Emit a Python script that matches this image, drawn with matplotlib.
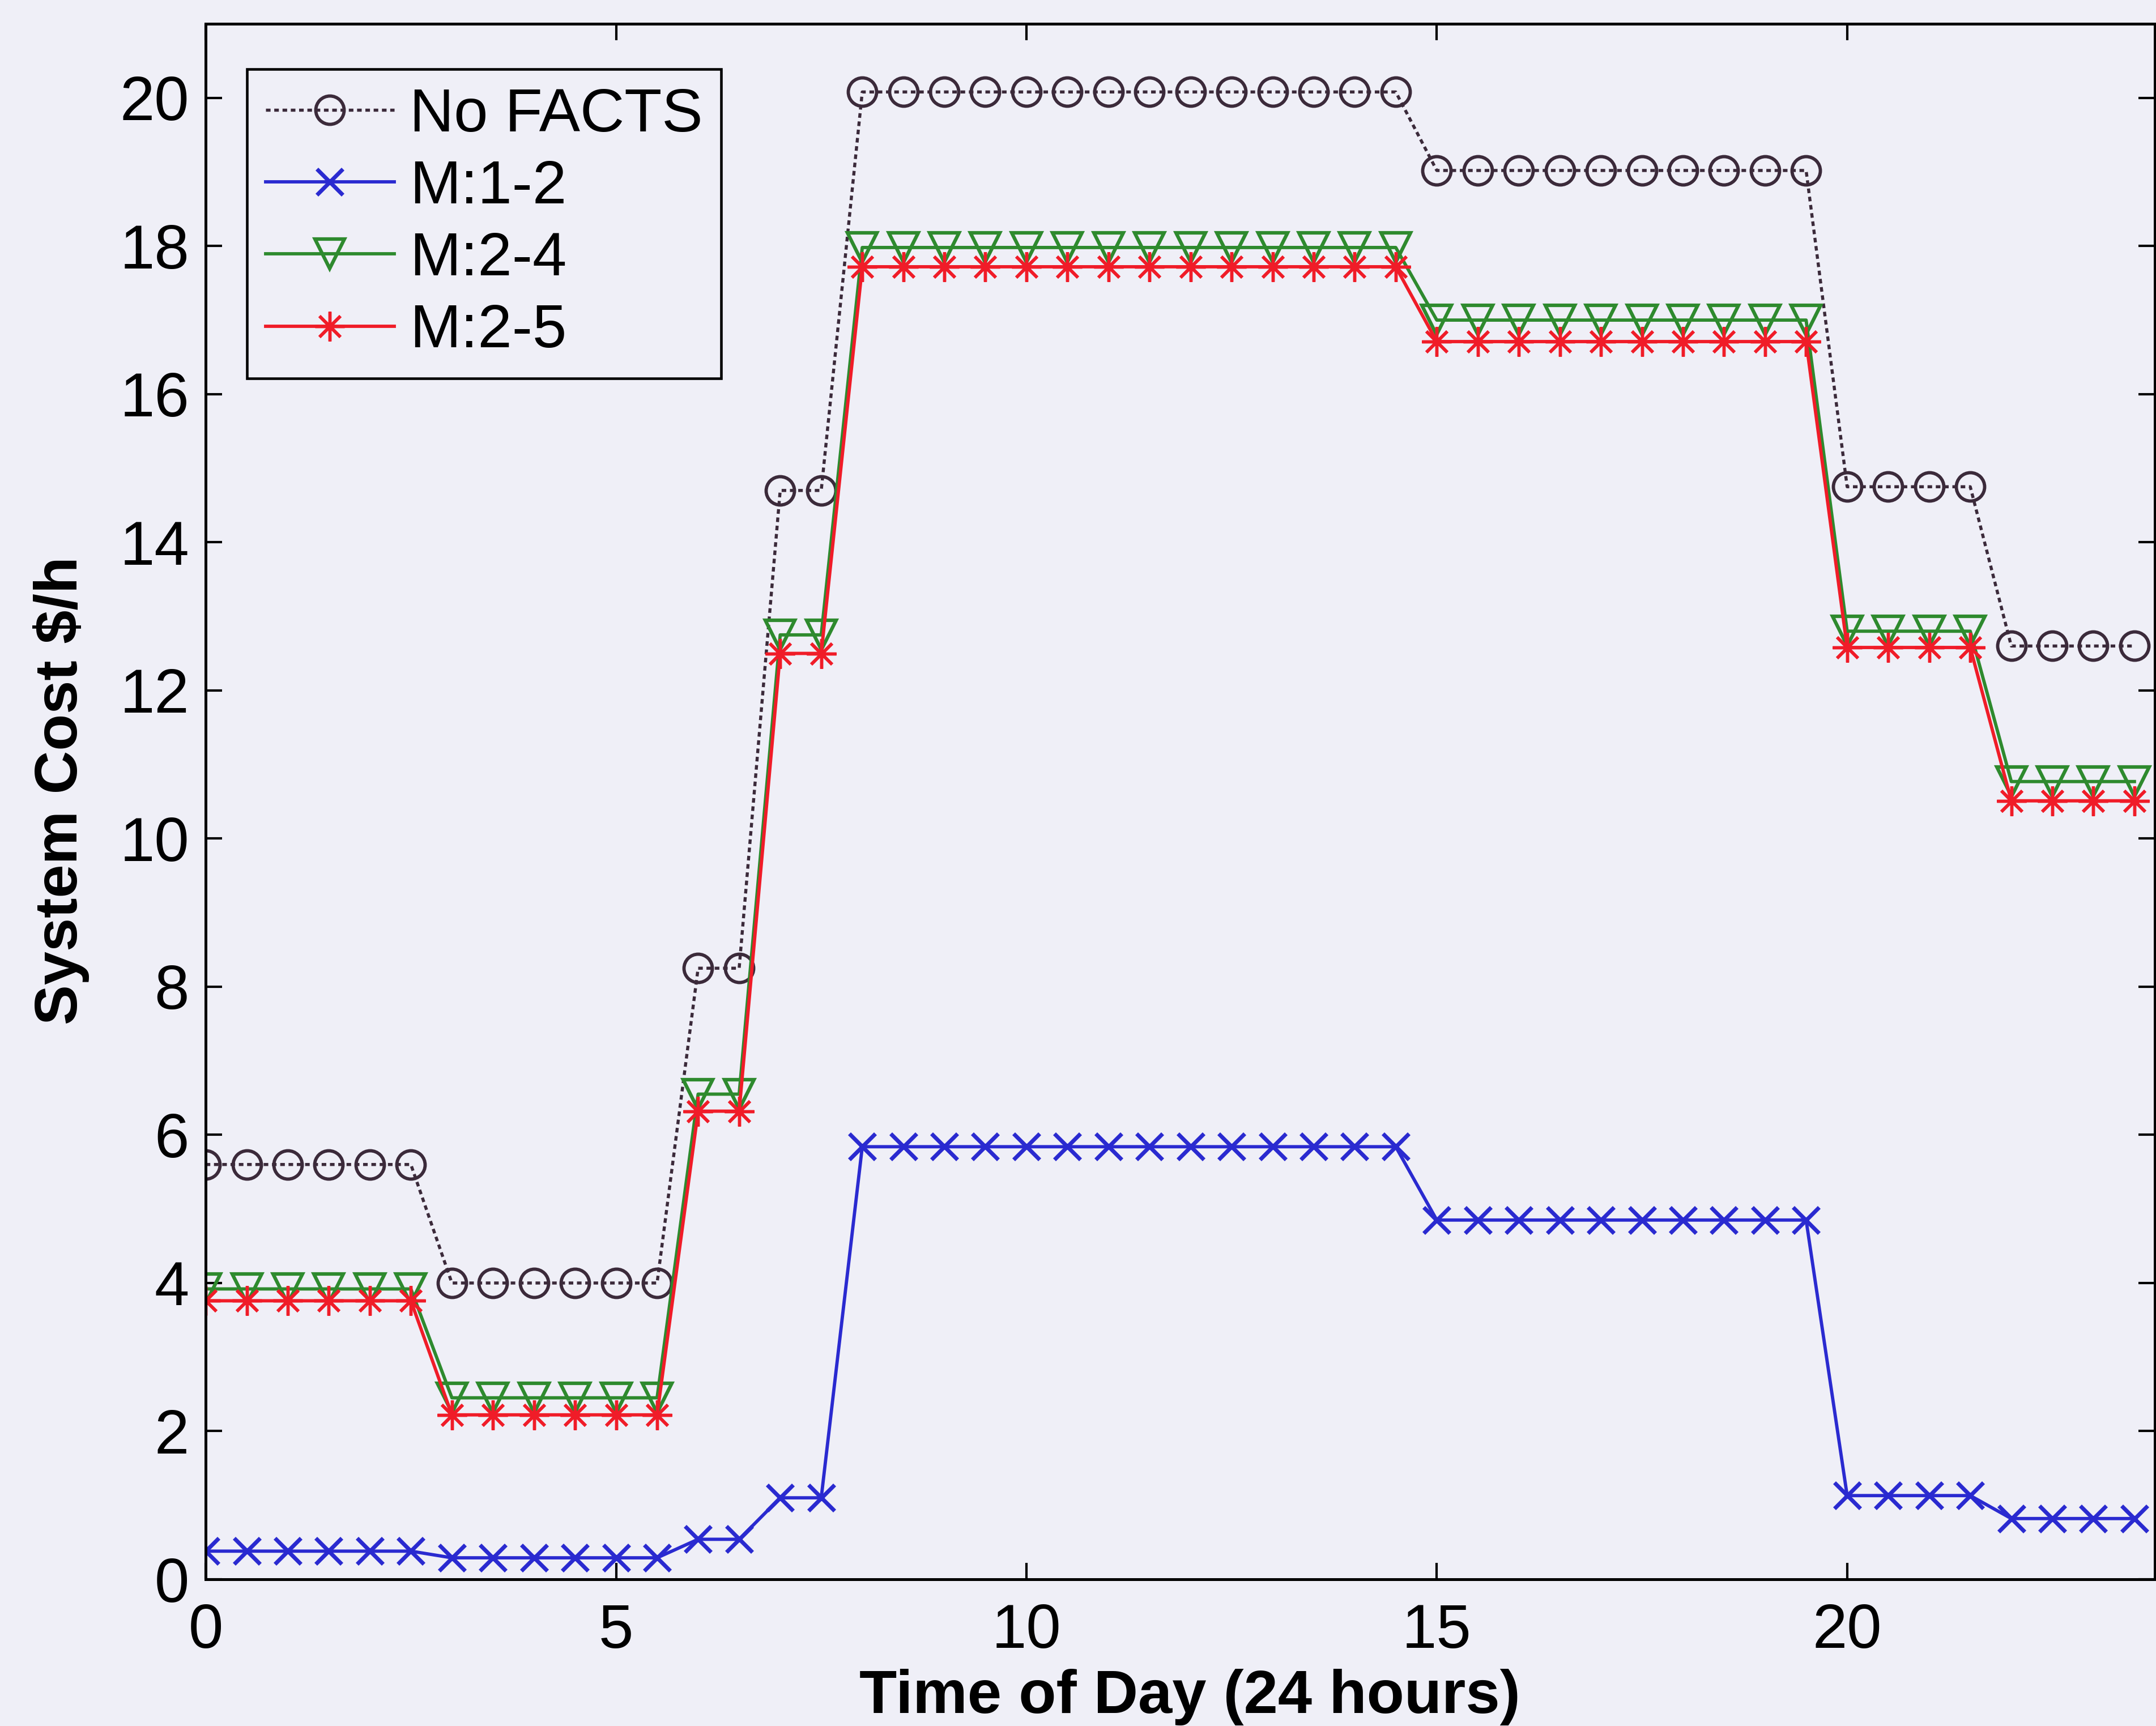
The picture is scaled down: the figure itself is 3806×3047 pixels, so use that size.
import matplotlib
matplotlib.use('Agg')
import matplotlib.pyplot as plt

# Half-hourly time of day (hours)
hours = [0.0, 0.5, 1.0, 1.5, 2.0, 2.5, 3.0, 3.5, 4.0, 4.5, 5.0, 5.5,
         6.0, 6.5, 7.0, 7.5, 8.0, 8.5, 9.0, 9.5, 10.0, 10.5, 11.0, 11.5,
         12.0, 12.5, 13.0, 13.5, 14.0, 14.5, 15.0, 15.5, 16.0, 16.5, 17.0, 17.5,
         18.0, 18.5, 19.0, 19.5, 20.0, 20.5, 21.0, 21.5, 22.0, 22.5, 23.0, 23.5]

# System cost $/h for each case
no_facts = [5.6, 5.6, 5.6, 5.6, 5.6, 5.6, 4.0, 4.0, 4.0, 4.0, 4.0, 4.0,
            8.25, 8.25, 14.7, 14.7, 20.08, 20.08, 20.08, 20.08, 20.08, 20.08, 20.08, 20.08,
            20.08, 20.08, 20.08, 20.08, 20.08, 20.08, 19.02, 19.02, 19.02, 19.02, 19.02, 19.02,
            19.02, 19.02, 19.02, 19.02, 14.75, 14.75, 14.75, 14.75, 12.6, 12.6, 12.6, 12.6]
m_1_2 = [0.38, 0.38, 0.38, 0.38, 0.38, 0.38, 0.29, 0.29, 0.29, 0.29, 0.29, 0.29,
         0.54, 0.54, 1.1, 1.1, 5.84, 5.84, 5.84, 5.84, 5.84, 5.84, 5.84, 5.84,
         5.84, 5.84, 5.84, 5.84, 5.84, 5.84, 4.85, 4.85, 4.85, 4.85, 4.85, 4.85,
         4.85, 4.85, 4.85, 4.85, 1.13, 1.13, 1.13, 1.13, 0.82, 0.82, 0.82, 0.82]
m_2_4 = [3.92, 3.92, 3.92, 3.92, 3.92, 3.92, 2.45, 2.45, 2.45, 2.45, 2.45, 2.45,
         6.55, 6.55, 12.75, 12.75, 17.98, 17.98, 17.98, 17.98, 17.98, 17.98, 17.98, 17.98,
         17.98, 17.98, 17.98, 17.98, 17.98, 17.98, 17.0, 17.0, 17.0, 17.0, 17.0, 17.0,
         17.0, 17.0, 17.0, 17.0, 12.8, 12.8, 12.8, 12.8, 10.77, 10.77, 10.77, 10.77]
m_2_5 = [3.76, 3.76, 3.76, 3.76, 3.76, 3.76, 2.22, 2.22, 2.22, 2.22, 2.22, 2.22,
         6.32, 6.32, 12.5, 12.5, 17.72, 17.72, 17.72, 17.72, 17.72, 17.72, 17.72, 17.72,
         17.72, 17.72, 17.72, 17.72, 17.72, 17.72, 16.71, 16.71, 16.71, 16.71, 16.71, 16.71,
         16.71, 16.71, 16.71, 16.71, 12.58, 12.58, 12.58, 12.58, 10.51, 10.51, 10.51, 10.51]

series_labels = ['No FACTS', 'M:1-2', 'M:2-4', 'M:2-5']
x_ticks = [0, 5, 10, 15, 20]
y_ticks = [0, 2, 4, 6, 8, 10, 12, 14, 16, 18, 20]

plt.rcParams['font.family'] = ['Liberation Sans', 'DejaVu Sans']
bg = '#efeff7'

fig = plt.figure(figsize=(3806 / 300, 3047 / 300), dpi=300, facecolor=bg)
ax = fig.add_axes([0.0954, 0.085, 0.9041, 0.9012], facecolor=bg)

ax.plot(hours, no_facts, color='#3b2a3a', ls=(0, (1.5, 1.2)), lw=1.3,
        marker='o', ms=12, mfc='none', mec='#3b2a3a', mew=1.4, label=series_labels[0])
ax.plot(hours, m_1_2, color='#2a2ad0', lw=1.4,
        marker='x', ms=11, mew=1.7, label=series_labels[1])
ax.plot(hours, m_2_4, color='#2e8a2e', lw=1.4,
        marker='v', ms=12.5, mfc='none', mew=1.5, label=series_labels[2])
ax.plot(hours, m_2_5, color='#f01c28', lw=1.4,
        marker=(8, 2, 0), ms=12.5, mew=1.3, label=series_labels[3])

ax.set_xlim(0, 23.75)
ax.set_ylim(0, 21)
ax.set_xticks(x_ticks)
ax.set_yticks(y_ticks)
ax.tick_params(direction='in', length=7, width=1, top=True, right=True, labelsize=26.5)
ax.tick_params(axis='x', pad=10)
ax.tick_params(axis='y', pad=7)
for sp in ax.spines.values():
    sp.set_linewidth(1.2)

ax.set_xlabel('Time of Day (24 hours)', fontsize=26, fontweight='bold')
ax.set_ylabel('System Cost $/h', fontsize=25.5, fontweight='bold')
ax.xaxis.set_label_coords(0.505, -0.0575)
ax.yaxis.set_label_coords(-0.0595, 0.507)

leg = ax.legend(loc='upper left', bbox_to_anchor=(0.0212, 0.971), borderaxespad=0,
                fontsize=26, fancybox=False, edgecolor='black', facecolor=bg, framealpha=1,
                handlelength=2.1, handletextpad=0.25, labelspacing=0.25, borderpad=0.3)
leg.get_frame().set_linewidth(1.1)

fig.savefig('out.png', dpi=300, facecolor=bg)
